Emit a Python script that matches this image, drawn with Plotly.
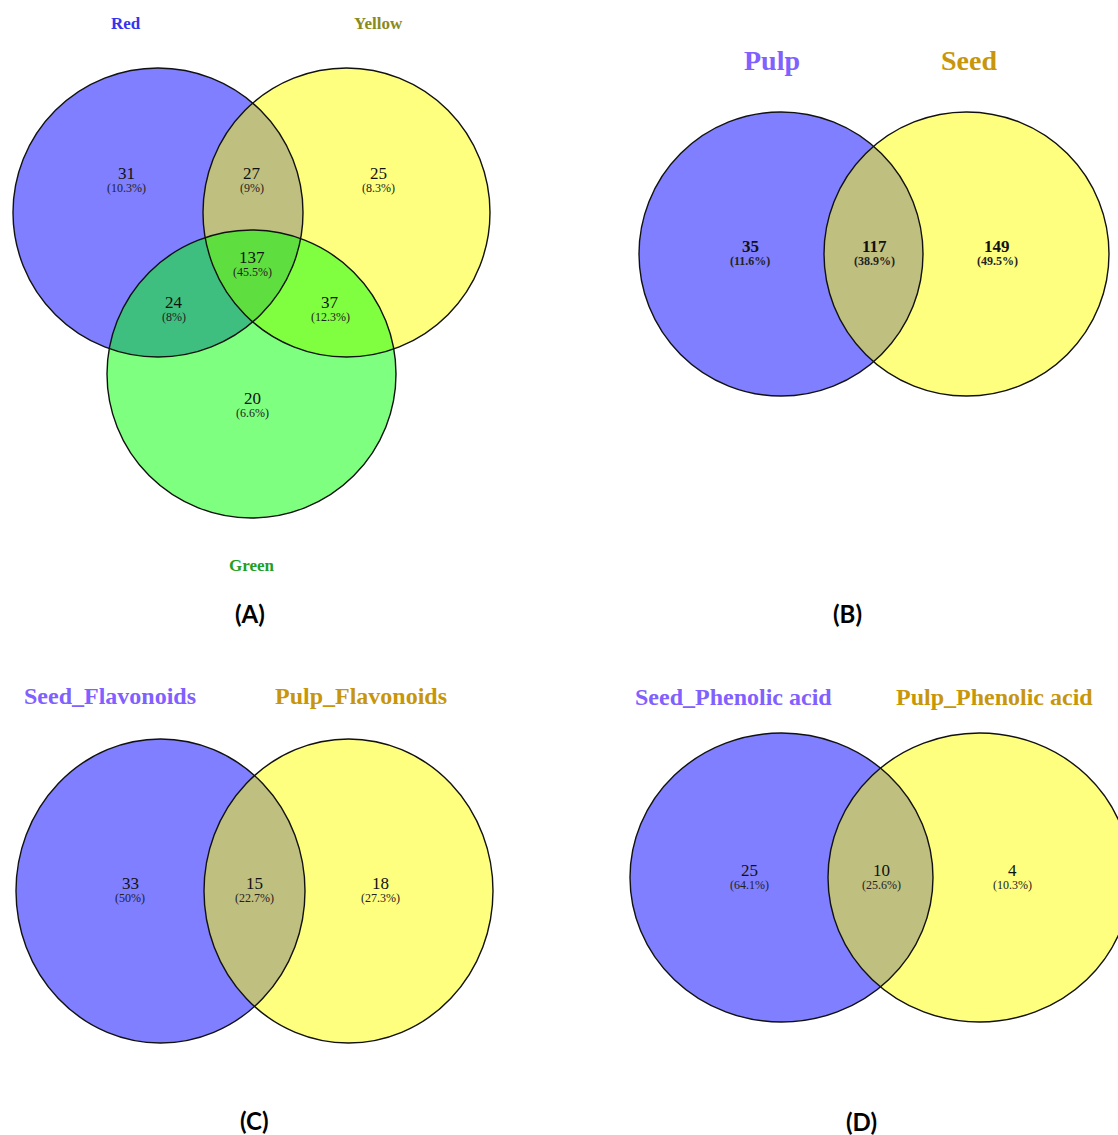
import plotly.graph_objects as go

# ---- data -------------------------------------------------------------
# Panel A: three colour groups
a_sets = ["Red", "Yellow", "Green"]
a_regions = ["Red only", "Red∩Yellow", "Yellow only", "All three",
             "Red∩Green", "Yellow∩Green", "Green only"]
a_counts = [31, 27, 25, 137, 24, 37, 20]

# Panel B: tissue
b_sets = ["Pulp", "Seed"]
b_regions = ["Pulp only", "Pulp∩Seed", "Seed only"]
b_counts = [35, 117, 149]

# Panel C: flavonoids
c_sets = ["Seed_Flavonoids", "Pulp_Flavonoids"]
c_regions = ["Seed only", "Both", "Pulp only"]
c_counts = [33, 15, 18]

# Panel D: phenolic acids
d_sets = ["Seed_Phenolic acid", "Pulp_Phenolic acid"]
d_regions = ["Seed only", "Both", "Pulp only"]
d_counts = [25, 10, 4]

panel_tags = ["(A)", "(B)", "(C)", "(D)"]


def pct_labels(counts):
    total = sum(counts)
    out = []
    for c in counts:
        p = round(100 * c / total, 1)
        s = f"{p:.1f}".rstrip("0").rstrip(".")
        out.append(f"({s}%)")
    return out


# ---- layout (pixel space) -------------------------------------------
W, H = 1118, 1135
BLUE = "rgba(0,0,255,0.5)"
YELLOW = "rgba(255,255,0,0.5)"
GREEN = "rgba(0,255,0,0.5)"

panels = [
    dict(sets=a_sets, counts=a_counts,
         circles=[(13, 68, 303, 357, BLUE), (203, 68, 490, 357, YELLOW),
                  (107, 230, 396, 518, GREEN)],
         set_pos=[(126, 23), (378, 23), (252, 565)],
         set_colors=["#3434f0", "#8a8a1c", "#23a024"], set_size=17,
         num_pos=[(126, 173), (252, 173), (378, 173), (252, 257),
                  (174, 302), (330, 302), (252, 398)],
         num_bold=False, tag_pos=(250, 613)),
    dict(sets=b_sets, counts=b_counts,
         circles=[(639, 112, 923, 396, BLUE), (824, 112, 1109, 396, YELLOW)],
         set_pos=[(772, 60), (969, 60)],
         set_colors=["#8060ff", "#c8960a"], set_size=28,
         num_pos=[(750, 246), (874, 246), (997, 246)],
         num_bold=True, tag_pos=(847, 613)),
    dict(sets=c_sets, counts=c_counts,
         circles=[(16, 739, 305, 1043, BLUE), (204, 739, 493, 1043, YELLOW)],
         set_pos=[(110, 696), (361, 696)],
         set_colors=["#8060ff", "#c8960a"], set_size=24,
         num_pos=[(130, 883), (254, 883), (380, 883)],
         num_bold=False, tag_pos=(254, 1120)),
    dict(sets=d_sets, counts=d_counts,
         circles=[(630, 733, 933, 1022, BLUE), (828, 733, 1131, 1022, YELLOW)],
         set_pos=[(733, 697), (994, 697)],
         set_colors=["#8060ff", "#c8960a"], set_size=24,
         num_pos=[(749, 870), (881, 870), (1012, 870)],
         num_bold=False, tag_pos=(861, 1121)),
]

SERIF = "Liberation Serif"
shapes, annotations = [], []

# fills first, then crisp black outlines on top
for p in panels:
    for (x0, y0, x1, y1, col) in p["circles"]:
        shapes.append(dict(type="circle", xref="x", yref="y", x0=x0, y0=y0,
                           x1=x1, y1=y1, fillcolor=col,
                           line=dict(width=0), layer="above"))
for p in panels:
    for (x0, y0, x1, y1, _) in p["circles"]:
        shapes.append(dict(type="circle", xref="x", yref="y", x0=x0, y0=y0,
                           x1=x1, y1=y1, fillcolor="rgba(0,0,0,0)",
                           line=dict(color="#111111", width=1.4),
                           layer="above"))

for tag, p in zip(panel_tags, panels):
    for name, (x, y), col in zip(p["sets"], p["set_pos"], p["set_colors"]):
        annotations.append(dict(x=x, y=y, xref="x", yref="y", text=f"<b>{name}</b>",
                                showarrow=False, xanchor="center", yanchor="middle",
                                font=dict(family=SERIF, size=p["set_size"], color=col)))
    pcts = pct_labels(p["counts"])
    for c, pc, (x, y) in zip(p["counts"], pcts, p["num_pos"]):
        t1 = f"<b>{c}</b>" if p["num_bold"] else str(c)
        t2 = f"<b>{pc}</b>" if p["num_bold"] else pc
        annotations.append(dict(x=x, y=y, xref="x", yref="y", text=t1,
                                showarrow=False, xanchor="center", yanchor="middle",
                                font=dict(family=SERIF, size=17, color="#111111")))
        annotations.append(dict(x=x, y=y + 15, xref="x", yref="y", text=t2,
                                showarrow=False, xanchor="center", yanchor="middle",
                                font=dict(family=SERIF, size=12, color="#222222")))
    tx, ty = p["tag_pos"]
    annotations.append(dict(x=tx, y=ty, xref="x", yref="y", text=f"<b>{tag}</b>",
                            showarrow=False, xanchor="center", yanchor="middle",
                            font=dict(family="Lato", size=24, color="#000000")))

fig = go.Figure()
fig.add_trace(go.Scatter(x=[], y=[], showlegend=False))
fig.update_layout(
    width=W, height=H,
    margin=dict(l=0, r=0, t=0, b=0),
    paper_bgcolor="white", plot_bgcolor="white",
    xaxis=dict(range=[0, W], visible=False, fixedrange=True),
    yaxis=dict(range=[H, 0], visible=False, fixedrange=True),
    shapes=shapes, annotations=annotations, showlegend=False,
)
fig.write_html("out.html")
